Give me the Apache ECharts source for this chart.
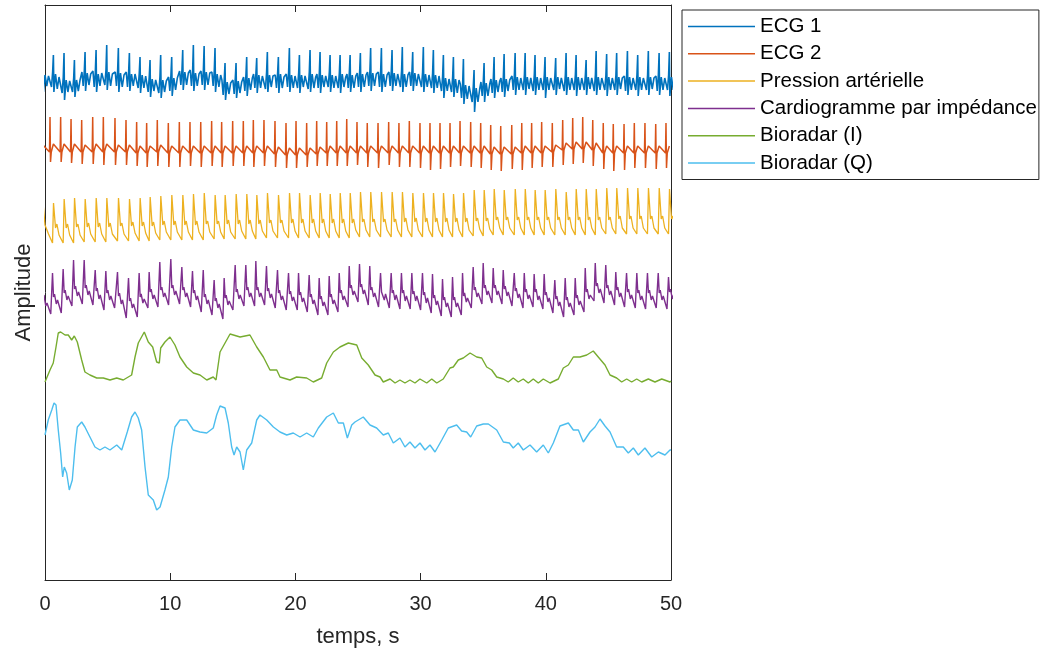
<!DOCTYPE html>
<html><head><meta charset="utf-8">
<script src="https://cdn.jsdelivr.net/npm/echarts@6/dist/echarts.min.js"></script>
<style>html,body{margin:0;padding:0;background:#fff}#c{width:1045px;height:653px}</style>
</head><body><div id="c"></div>
<script>
// ---------- data ----------
const seriesNames = ['ECG 1', 'ECG 2', 'Pression artérielle', 'Cardiogramme par impédance', 'Bioradar (I)', 'Bioradar (Q)'];
const xTicks = [0, 10, 20, 30, 40, 50];
// vertical stacking level of each trace (amplitude units)
const traceOffsets = [500, 428, 340, 280, 200, 140];

// heart-beat times (s), taken from the R spikes of ECG 2
const beatTimes = [-0.44,
  0.40, 1.25, 2.08, 2.93, 3.81, 4.66, 5.59, 6.47, 7.32, 8.12,
  8.97, 9.85, 10.73, 11.58, 12.44, 13.31, 14.11, 14.99, 15.84, 16.64,
  17.49, 18.37, 19.25, 20.05, 20.90, 21.70, 22.50, 23.30, 24.10, 24.92,
  25.74, 26.60, 27.45, 28.27, 29.10, 29.95, 30.75, 31.55, 32.35, 33.15,
  34.00, 34.80, 35.60, 36.40, 37.28, 38.08, 38.87, 39.67, 40.52, 41.35,
  42.15, 42.95, 43.75, 44.59, 45.39, 46.25, 47.07, 47.92, 48.78, 49.60];

// ECG 1: delay of each sample after the beat, and values per beat
const ecg1Phase = [0.02, 0.12, 0.21, 0.27, 0.31, 0.44, 0.58, 0.72];
const ecg1Beats = [
  [6,-8,7,20,-12,5,-6,4],
  [5,-7,8,25,-12,6,-9,3],[2,-13,3,27,-20,0,-12,-1],[1,-12,2,20,-17,0,-11,0],[8,-6,9,28,-11,7,-5,6],[9,-7,8,30,-12,6,-6,7],
  [9,-5,10,35,-10,8,-6,6],[8,-6,9,32,-12,7,-7,5],[8,-7,8,27,-11,6,-6,6],[7,-8,7,23,-13,5,-8,4],[2,-12,4,20,-17,1,-11,0],
  [1,-13,3,25,-18,0,-12,-1],[3,-11,5,23,-16,2,-10,2],[9,-5,10,30,-10,8,-5,7],[10,-6,9,35,-11,7,-6,6],[9,-5,10,34,-10,8,-5,7],
  [8,-6,9,32,-12,6,-7,5],[0,-15,1,17,-20,-2,-14,-3],[0,-14,2,17,-18,-1,-13,-2],[3,-11,5,23,-16,2,-10,2],[6,-8,7,22,-13,5,-8,4],
  [6,-9,8,28,-12,5,-7,4],[5,-8,7,23,-13,6,-8,3],[6,-7,8,32,-12,5,-8,4],[6,-8,7,25,-13,5,-7,4],[5,-9,8,30,-12,6,-8,3],
  [6,-8,7,28,-13,5,-7,4],[6,-7,8,25,-12,5,-8,4],[5,-8,7,25,-13,6,-7,3],[6,-8,8,25,-12,5,-8,4],[7,-7,8,27,-12,6,-7,5],
  [8,-6,9,32,-11,7,-6,6],[8,-7,9,32,-12,6,-7,5],[8,-6,9,30,-11,7,-6,6],[8,-7,9,33,-12,6,-7,5],[8,-6,9,28,-11,7,-6,6],
  [7,-7,8,33,-12,6,-7,5],[6,-8,7,30,-13,5,-8,4],[3,-11,4,25,-18,2,-11,1],[2,-12,3,23,-17,1,-13,0],[-4,-18,-3,21,-24,-5,-19,-6],
  [-7,-22,-6,10,-32,-8,-22,-9],[-2,-16,-1,17,-22,-3,-16,-4],[1,-13,2,23,-18,0,-12,-1],[2,-12,3,26,-17,1,-11,0],[4,-10,5,27,-15,3,-10,2],
  [4,-10,5,27,-15,3,-9,2],[4,-11,5,25,-15,3,-10,2],[4,-10,5,23,-18,3,-10,2],[4,-10,5,22,-15,3,-9,2],[4,-11,5,27,-15,3,-10,2],
  [4,-10,5,25,-16,3,-10,2],[4,-10,5,20,-15,3,-9,2],[4,-11,5,29,-15,3,-10,2],[4,-10,5,26,-16,3,-10,2],[4,-10,5,27,-15,3,-9,2],
  [4,-11,5,29,-15,3,-10,2],[4,-10,5,25,-16,3,-10,2],[4,-10,5,29,-15,3,-9,2],[4,-11,5,27,-15,3,-10,2],[4,-10,5,28,-16,3,-10,2]];

// ECG 2
const ecg2Phase = [-0.04, 0, 0.04, 0.10, 0.27];
const ecg2Beats = [
  [0,30,-12,0,7],
  [0,35,-10,0,8],[0,35,-10,0,8],[0,33,-11,0,8],[0,32,-12,0,7],[0,35,-12,1,8],
  [0,35,-13,1,8],[0,34,-13,0,7],[0,32,-13,0,7],[-1,30,-14,-1,6],[-1,29,-15,-1,6],
  [0,32,-14,0,7],[-1,29,-15,-1,6],[-1,30,-15,-1,6],[-1,30,-14,-1,6],[-1,30,-15,-1,6],
  [-1,31,-14,-1,6],[-1,30,-15,-1,6],[-1,31,-14,-1,6],[-1,31,-14,-1,6],[-1,32,-15,-1,6],
  [-1,32,-14,-1,6],[-2,31,-15,-2,5],[-3,29,-16,-3,4],[-3,31,-16,-3,4],[-3,29,-15,-3,4],
  [-2,31,-14,-2,5],[-1,30,-14,-1,6],[-1,31,-14,-1,6],[-1,33,-14,-1,6],[-1,30,-13,-1,6],
  [-1,29,-15,-1,6],[-1,29,-16,-1,6],[-1,30,-13,-1,6],[-1,29,-15,-1,6],[-1,31,-15,-1,6],
  [-1,29,-16,-1,6],[-1,29,-18,-1,6],[-1,29,-17,-1,6],[-1,29,-15,-1,6],[-1,31,-14,-1,6],
  [-1,30,-15,-1,6],[-1,29,-16,-1,6],[-2,27,-18,-2,5],[-2,26,-19,-2,5],[-2,27,-17,-2,5],
  [-1,29,-18,-1,6],[-1,29,-16,-1,6],[-1,30,-15,-1,6],[0,29,-15,0,7],[2,32,-13,2,9],
  [3,34,-12,3,10],[3,35,-11,3,10],[2,32,-14,2,9],[-1,29,-17,-1,6],[-1,28,-19,-1,6],
  [-1,28,-18,-1,6],[-1,29,-16,-1,6],[-1,29,-16,-1,6],[-1,28,-17,-1,6],[-1,29,-16,-1,6]];

// Pression artérielle: trough, systolic peak, notch, dicrotic bump, late diastole
const bpPhase = [0.20, 0.28, 0.44, 0.55, 0.72];
const bpBeats = [
  [-3,37,15,16,6],
  [-3,37,12,16,5],[-3,41,12,16,5],[-3,42,13,16,5],[-2,41,13,17,6],[-2,42,13,17,6],
  [-2,42,13,17,6],[-1,42,14,17,6],[-1,41,14,18,7],[-1,42,14,18,7],[-1,43,14,18,7],
  [0,44,15,19,8],[0,45,15,19,8],[0,45,15,19,8],[0,46,15,19,8],[0,47,16,19,8],
  [1,45,16,19,8],[1,45,16,20,8],[1,46,16,20,9],[1,46,16,20,9],[1,45,16,20,9],
  [2,47,17,20,9],[2,45,17,20,9],[2,47,17,21,9],[2,47,17,21,9],[2,45,17,21,9],
  [2,47,17,21,9],[2,46,17,21,9],[2,47,17,21,9],[2,47,17,21,10],[3,48,18,21,10],
  [3,48,18,21,10],[3,48,18,21,10],[3,48,18,21,10],[3,48,18,22,10],[3,47,18,22,10],
  [3,47,18,22,10],[3,47,18,22,10],[3,47,18,22,10],[3,46,18,22,10],[3,47,18,22,10],
  [4,50,19,22,11],[4,50,19,22,11],[5,51,20,23,12],[5,50,20,23,12],[5,51,20,23,12],
  [5,51,20,23,12],[5,50,20,23,12],[5,50,20,23,12],[5,51,20,23,12],[5,48,20,23,12],
  [5,51,20,23,12],[5,51,20,23,12],[5,51,20,23,12],[6,52,20,23,12],[6,52,21,24,12],
  [6,52,21,24,12],[6,52,21,24,12],[6,52,21,24,12],[6,52,21,24,12],[6,51,21,24,12]];

// Cardiogramme par impédance: peak, fall, bump, fall, bump, trough
const icgPhase = [0.20, 0.28, 0.36, 0.50, 0.60, 0.90];
const icgBeats = [
  [20,2,5,-6,-3,-14],
  [27,3,6,-4,0,-13],[31,7,10,0,4,-6],[40,11,14,4,8,-4],[40,12,15,5,9,-5],[30,9,12,1,5,-10],
  [29,7,10,0,4,-8],[28,4,7,-4,0,-18],[22,-1,2,-8,-4,-17],[27,3,6,-3,1,-8],[28,8,11,1,5,-7],
  [38,10,13,3,7,-5],[41,12,15,5,9,-4],[33,10,13,3,7,-7],[29,7,10,0,4,-12],[30,3,6,-4,0,-15],
  [20,-1,2,-8,-4,-19],[22,2,5,-5,-1,-10],[35,8,11,1,5,-6],[35,10,13,3,7,-6],[39,10,13,3,7,-5],
  [34,9,12,2,6,-8],[30,7,10,0,4,-10],[27,6,9,-1,3,-10],[27,5,8,-2,2,-12],[25,3,6,-4,0,-15],
  [22,1,4,-6,-2,-15],[24,3,6,-4,0,-12],[27,7,10,0,4,-7],[34,12,15,5,9,-2],[36,13,16,6,10,-5],
  [34,10,13,3,7,-7],[27,8,10,0,6,-8],[27,7,10,0,5,-9],[27,7,10,-1,4,-9],[27,6,9,-1,4,-10],
  [27,5,8,-3,2,-13],[26,2,5,-5,-1,-16],[21,0,3,-7,-3,-17],[23,0,3,-7,-3,-15],[27,4,7,-2,2,-8],
  [33,10,13,3,7,-4],[37,12,15,5,9,-3],[32,12,15,5,9,-4],[30,11,14,4,8,-6],[27,9,12,2,6,-8],
  [27,8,11,1,5,-7],[26,8,11,0,4,-9],[26,5,8,-2,2,-13],[20,1,4,-6,-2,-17],[22,0,3,-7,-3,-15],
  [22,2,5,-5,-1,-12],[32,8,11,1,5,-1],[37,14,17,7,11,-3],[35,12,15,5,9,-5],[28,10,13,3,7,-7],
  [27,8,11,1,5,-8],[27,7,10,0,4,-9],[27,7,10,0,4,-8],[27,7,10,0,4,-9],[23,8,11,1,5,-7]];

// Bioradar (I): [time s, amplitude]
const bioradarI = [
  [0,-2],[0.40,10],[0.66,17],[0.88,33],[1.06,47],[1.25,48],[1.60,45],[1.86,45],[2.13,40],[2.34,44],[2.58,38],
  [2.93,20],[3.19,8],[3.59,5],[4.13,2],[4.66,2],[5.19,0],[5.73,2],[6.25,0],[6.92,5],[7.19,23],[7.45,37],
  [7.93,48],[8.25,38],[8.60,33],[8.92,18],[9.13,17],[9.24,32],[9.58,38],[9.98,43],[10.38,35],[10.78,23],
  [11.32,13],[11.85,7],[12.38,5],[12.92,0],[13.44,3],[13.66,0],[13.98,28],[14.38,37],[14.78,46],[15.58,43],
  [16.37,45],[16.91,33],[17.44,23],[17.97,10],[18.51,10],[18.77,3],[19.57,0],[20.10,3],[20.90,2],[21.43,-2],
  [22.10,2],[22.50,17],[23.03,28],[23.56,33],[24.23,37],[24.36,35],[24.90,35],[25.30,22],[25.82,15],[26.36,5],
  [26.76,3],[27.02,-2],[27.56,1],[27.96,-3],[28.35,0],[28.75,-3],[29.15,0],[29.55,-3],[29.95,1],[30.49,-3],
  [30.89,1],[31.29,-3],[31.81,1],[32.35,12],[32.61,13],[33.01,20],[33.41,22],[33.95,27],[34.48,23],[34.88,22],
  [35.28,13],[35.68,10],[36.08,3],[36.61,1],[37.00,-2],[37.40,2],[37.80,-2],[38.20,1],[38.60,-3],[39.00,1],
  [39.40,-3],[39.80,1],[40.34,-3],[41.00,1],[41.40,12],[41.80,15],[42.20,23],[42.73,23],[43.27,25],[43.79,29],
  [44.19,23],[44.73,15],[45.13,5],[45.66,2],[46.06,-2],[46.46,1],[46.86,-2],[47.26,1],[47.66,-2],[48.19,1],
  [48.72,-2],[49.26,1],[49.92,-2],[50,-1]];

// Bioradar (Q): [time s, amplitude]
const bioradarQ = [
  [0,5],[0.26,20],[0.54,30],[0.72,37],[0.88,35],[1.06,10],[1.25,-13],[1.41,-37],[1.54,-27],[1.73,-33],[1.94,-50],
  [2.18,-40],[2.40,-7],[2.58,13],[2.93,18],[3.19,13],[3.59,3],[3.99,-7],[4.39,-10],[4.79,-7],[5.19,-10],[5.73,-5],
  [6.13,-10],[6.57,8],[6.92,23],[7.19,28],[7.45,22],[7.72,10],[7.99,-27],[8.25,-55],[8.65,-60],[8.92,-70],[9.19,-67],
  [9.58,-50],[9.85,-37],[10.12,-7],[10.38,13],[10.78,20],[11.32,20],[11.85,10],[12.38,8],[12.92,7],[13.44,12],
  [13.71,25],[13.98,34],[14.38,32],[14.64,17],[14.91,-7],[15.10,-15],[15.31,-7],[15.58,-12],[15.84,-30],[16.11,-10],
  [16.51,-3],[16.91,20],[17.17,25],[17.71,20],[18.24,13],[18.77,8],[19.31,5],[19.83,7],[20.37,3],[20.90,7],[21.43,3],
  [21.83,12],[22.50,23],[23.03,27],[23.43,17],[23.83,17],[24.15,2],[24.50,15],[24.76,18],[25.42,23],[25.96,15],
  [26.49,12],[27.02,5],[27.42,7],[27.82,-3],[28.35,2],[28.75,-7],[29.15,-2],[29.55,-8],[29.95,-3],[30.35,-10],
  [30.75,-5],[31.15,-12],[31.69,0],[32.21,12],[32.88,15],[33.28,9],[33.68,8],[34.00,3],[34.48,14],[35.01,16],
  [35.41,16],[36.08,10],[36.61,-2],[37.09,-3],[37.40,-8],[37.80,-3],[38.20,-10],[38.74,-5],[39.27,-12],[39.80,-5],
  [40.20,-13],[40.60,-3],[41.13,14],[41.80,17],[42.20,10],[42.60,10],[43.00,-2],[43.53,8],[43.93,13],[44.33,21],
  [44.73,14],[45.13,8],[45.66,-7],[46.19,-7],[46.59,-13],[46.99,-8],[47.39,-15],[47.92,-8],[48.46,-17],[48.99,-12],
  [49.52,-15],[49.92,-10],[50,-10]];

// ---------- build series ----------
function fromBeats(phase, rows, offset) {
  const pts = [];
  rows.forEach((r, i) => r.forEach((v, k) => pts.push([+(beatTimes[i] + phase[k]).toFixed(3), v + offset])));
  return pts;
}
function fromPairs(pairs, offset) { return pairs.map(p => [p[0], p[1] + offset]); }

const traces = [
  fromBeats(ecg1Phase, ecg1Beats, traceOffsets[0]),
  fromBeats(ecg2Phase, ecg2Beats, traceOffsets[1]),
  fromBeats(bpPhase, bpBeats, traceOffsets[2]),
  fromBeats(icgPhase, icgBeats, traceOffsets[3]),
  fromPairs(bioradarI, traceOffsets[4]),
  fromPairs(bioradarQ, traceOffsets[5])
];
const colors = ['#0072BD', '#D95319', '#EDB120', '#7E2F8E', '#77AC30', '#4DBEEE'];
const widths = [1.6, 1.5, 1.3, 1.4, 1.4, 1.4];
const FONT = "'Liberation Sans', Arial, Helvetica, sans-serif";
const AX = '#262626';

const chart = echarts.init(document.getElementById('c'), null, {renderer: 'canvas'});
chart.setOption({
  animation: false,
  backgroundColor: '#fff',
  textStyle: {fontFamily: FONT},
  grid: {left: 45, right: 374, top: 5, bottom: 73, containLabel: false},
  legend: {
    orient: 'vertical', left: 682, top: 10,
    icon: 'rect', itemWidth: 67, itemHeight: 1.5, itemGap: 6.3,
    padding: [6, 2, 6, 6],
    borderColor: AX, borderWidth: 1, backgroundColor: '#fff',
    textStyle: {fontSize: 20.5, color: '#000', fontFamily: FONT, lineHeight: 20},
    data: seriesNames
  },
  xAxis: [{
    type: 'value', min: xTicks[0], max: xTicks[xTicks.length - 1], interval: 10, position: 'bottom',
    axisLine: {show: true, onZero: false, lineStyle: {color: AX, width: 1}},
    axisTick: {show: true, inside: true, length: 7, lineStyle: {color: AX}},
    axisLabel: {fontSize: 20, color: AX, margin: 14, fontFamily: FONT},
    splitLine: {show: false},
    name: 'temps, s', nameLocation: 'middle', nameGap: 46,
    nameTextStyle: {fontSize: 22, color: AX, fontFamily: FONT}
  }, {
    type: 'value', min: 0, max: 50, interval: 10, position: 'top',
    axisLine: {show: true, onZero: false, lineStyle: {color: AX, width: 1}},
    axisTick: {show: true, inside: true, length: 7, lineStyle: {color: AX}},
    axisLabel: {show: false}, splitLine: {show: false}
  }],
  yAxis: [{
    type: 'value', min: 0, max: 575, position: 'left',
    axisLine: {show: true, onZero: false, lineStyle: {color: AX, width: 1}},
    axisTick: {show: false}, axisLabel: {show: false}, splitLine: {show: false},
    name: 'Amplitude', nameLocation: 'middle', nameGap: 10,
    nameTextStyle: {fontSize: 22, color: AX, fontFamily: FONT}
  }, {
    type: 'value', min: 0, max: 575, position: 'right',
    axisLine: {show: true, onZero: false, lineStyle: {color: AX, width: 1}},
    axisTick: {show: false}, axisLabel: {show: false}, splitLine: {show: false}
  }],
  series: traces.map((d, i) => ({
    name: seriesNames[i], type: 'line', data: d,
    xAxisIndex: 0, yAxisIndex: 0,
    symbol: 'none', showSymbol: false, clip: true,
    lineStyle: {color: colors[i], width: widths[i]},
    itemStyle: {color: colors[i]},
    emphasis: {disabled: true}
  }))
});
</script></body></html>
